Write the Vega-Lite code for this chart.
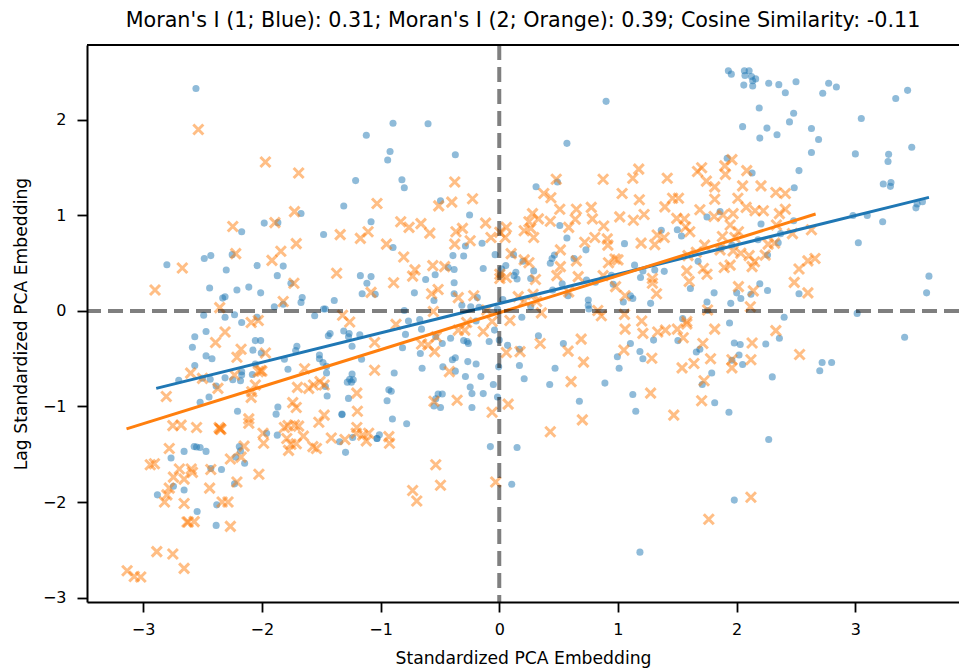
{"$schema":"https://vega.github.io/schema/vega-lite/v6.json","width":872,"height":557,"autosize":{"type":"none"},"padding":{"left":87,"top":45,"right":0,"bottom":67},"background":"white","config":{"view":{"stroke":null},"font":"DejaVu Sans"},"title":{"text":"Moran's I (1; Blue): 0.31; Moran's I (2; Orange): 0.39; Cosine Similarity: -0.11","font":"DejaVu Sans","fontSize":20.7,"fontWeight":"normal","color":"black","anchor":"middle","offset":11},
"datasets":{"blue":[
{"x":-2.555,"y":2.33},{"x":-1.12,"y":1.84},{"x":-1.21,"y":1.365},{"x":-1.31,"y":1.1},{"x":-1.67,"y":1.02},{"x":-1.08,"y":0.935},{"x":-1.48,"y":0.8},{"x":-1.865,"y":0.925},{"x":-1.98,"y":0.92},{"x":-2.17,"y":0.83},{"x":-2.43,"y":0.58},{"x":-2.485,"y":0.55},{"x":-2.25,"y":0.59},{"x":-2.8,"y":0.485},{"x":-2.04,"y":0.475},{"x":-1.82,"y":0.47},{"x":-2.3,"y":0.43},{"x":-1.87,"y":0.37},{"x":-1.17,"y":0.37},{"x":-1.08,"y":0.36},{"x":-1.115,"y":0.29},{"x":-1.755,"y":0.29},{"x":-2.44,"y":0.24},{"x":-2.21,"y":0.22},{"x":-2.11,"y":0.25},{"x":-2.01,"y":0.19},{"x":-1.155,"y":0.18},{"x":-1.045,"y":0.175},{"x":-2.33,"y":0.135},{"x":-2.31,"y":0.15},{"x":-1.66,"y":0.14},{"x":-1.67,"y":0.09},{"x":-1.39,"y":0.11},{"x":-1.895,"y":0.045},{"x":-1.82,"y":0.07},{"x":-1.465,"y":0.02},{"x":-1.48,"y":0.02},{"x":-2.49,"y":-0.045},{"x":-2.31,"y":-0.065},{"x":-2.23,"y":-0.04},{"x":-2.04,"y":-0.065},{"x":-2.17,"y":-0.12},{"x":-1.555,"y":-0.05},
{"x":-2.565,"y":-0.27},{"x":-2.47,"y":-0.215},{"x":-2.585,"y":-0.38},{"x":-2.47,"y":-0.47},{"x":-2.42,"y":-0.5},{"x":-2.565,"y":-0.57},{"x":-2.7,"y":-0.725},{"x":-2.055,"y":-0.31},{"x":-2.01,"y":-0.31},{"x":-2.075,"y":-0.41},{"x":-2.005,"y":-0.44},{"x":-1.705,"y":-0.37},{"x":-1.715,"y":-0.415},{"x":-1.44,"y":-0.26},{"x":-1.425,"y":-0.235},{"x":-1.265,"y":-0.235},{"x":-1.27,"y":-0.27},{"x":-1.175,"y":-0.25},{"x":-1.24,"y":-0.37},{"x":-1.31,"y":-0.21},{"x":-1.81,"y":-0.505},{"x":-1.515,"y":-0.46},{"x":-1.515,"y":-0.5},{"x":-1.485,"y":-0.54},{"x":-1.455,"y":-0.58},{"x":-1.455,"y":-0.65},{"x":-1.16,"y":-0.505},{"x":-1.78,"y":-0.61},{"x":-2.055,"y":-0.555},{"x":-2.17,"y":-0.635},{"x":-2.17,"y":-0.67},{"x":-2.08,"y":-0.665},{"x":-2.31,"y":-0.7},{"x":-2.245,"y":-0.72},{"x":-2.18,"y":-0.73},{"x":-2.435,"y":-0.715},{"x":-2.5,"y":-0.705},{"x":-2.385,"y":-0.785},{"x":-2.445,"y":-0.9},{"x":-2.52,"y":-0.955},{"x":-1.24,"y":-0.66},{"x":-1.26,"y":-0.715},{"x":-1.23,"y":-0.72},{"x":-1.28,"y":-0.745},{"x":-1.245,"y":-0.745},{"x":-1.27,"y":-0.915},{"x":-1.45,"y":-0.89},{"x":-1.465,"y":-0.79},{"x":-1.865,"y":-1.005},{"x":-1.88,"y":-1.08},{"x":-2.205,"y":-1.05},{"x":-1.325,"y":-1.08},{"x":-1.325,"y":-1.085},{"x":-1.96,"y":-1.28},{"x":-1.87,"y":-1.3},{"x":-1.235,"y":-1.325},{"x":-1.345,"y":-1.37},{"x":-1.03,"y":-1.335},{"x":-1.295,"y":-1.48},{"x":-2.57,"y":-1.42},{"x":-2.55,"y":-1.425},{"x":-2.52,"y":-1.43},{"x":-2.47,"y":-1.47},{"x":-2.655,"y":-1.47},{"x":-2.765,"y":-1.54},{"x":-2.19,"y":-1.42},{"x":-2.18,"y":-1.465},{"x":-2.22,"y":-1.53},{"x":-2.145,"y":-1.595},{"x":-2.34,"y":-1.66},{"x":-2.43,"y":-1.65},{"x":-2.23,"y":-1.81},{"x":-2.745,"y":-1.835},{"x":-2.655,"y":-1.875},{"x":-2.88,"y":-1.925},{"x":-2.38,"y":-2.03},{"x":-2.545,"y":-2.1},{"x":-2.385,"y":-2.245},
{"x":0.9,"y":2.195},{"x":-0.895,"y":1.965},{"x":-0.6,"y":1.96},{"x":0.57,"y":1.755},{"x":-0.92,"y":1.67},{"x":-0.94,"y":1.58},{"x":-0.37,"y":1.635},{"x":-0.82,"y":1.375},{"x":-0.8,"y":1.29},{"x":0.31,"y":1.3},{"x":0.49,"y":1.35},{"x":-0.495,"y":1.155},{"x":-0.25,"y":1.005},{"x":0.51,"y":0.895},{"x":0.57,"y":0.765},{"x":1.365,"y":0.845},{"x":1.055,"y":0.705},{"x":-0.895,"y":0.665},{"x":-0.285,"y":0.68},{"x":-0.145,"y":0.71},{"x":0.73,"y":0.64},{"x":-0.39,"y":0.58},{"x":-0.3,"y":0.575},{"x":-0.035,"y":0.59},{"x":0.12,"y":0.59},{"x":0.465,"y":0.585},{"x":0.445,"y":0.55},{"x":0.43,"y":0.5},{"x":0.63,"y":0.55},{"x":0.2,"y":0.52},{"x":-0.43,"y":0.455},{"x":-0.38,"y":0.435},{"x":-0.135,"y":0.445},{"x":0.055,"y":0.475},{"x":0.02,"y":0.44},{"x":0.01,"y":0.375},{"x":0.14,"y":0.405},{"x":0.125,"y":0.37},{"x":0.15,"y":0.335},{"x":0.29,"y":0.42},{"x":0.265,"y":0.34},{"x":-0.54,"y":0.38},{"x":-0.62,"y":0.33},{"x":-0.38,"y":0.295},{"x":-0.715,"y":0.19},{"x":-0.38,"y":0.18},{"x":-0.55,"y":0.11},{"x":-0.315,"y":0.06},{"x":-0.24,"y":0.045},{"x":-0.17,"y":0.04},{"x":-0.185,"y":0.14},{"x":-0.8,"y":0.005},{"x":-0.765,"y":-0.105},{"x":-0.67,"y":-0.09},{"x":-0.015,"y":0.02},{"x":0.03,"y":0.12},{"x":0.265,"y":0.045},{"x":0.19,"y":-0.065},{"x":0.53,"y":0.285},{"x":0.58,"y":0.16},{"x":0.735,"y":0.325},{"x":0.81,"y":0.3},{"x":0.96,"y":0.28},{"x":0.945,"y":0.375},{"x":0.75,"y":0.115},{"x":0.75,"y":0.06},{"x":0.755,"y":0.02},{"x":1.105,"y":0.16},{"x":1.125,"y":0.13},{"x":1.045,"y":0.095},{"x":1.275,"y":0.08},{"x":1.14,"y":0.48},{"x":1.21,"y":0.42},{"x":1.19,"y":0.35},{"x":1.31,"y":0.43},{"x":1.39,"y":0.415},{"x":0.45,"y":0.22},{"x":-0.195,"y":-0.105},
{"x":-0.79,"y":-0.245},{"x":-0.655,"y":-0.19},{"x":-0.815,"y":-0.385},{"x":-0.665,"y":-0.445},{"x":-0.535,"y":-0.27},{"x":-0.48,"y":-0.34},{"x":-0.41,"y":-0.285},{"x":-0.3,"y":-0.31},{"x":-0.27,"y":-0.32},{"x":-0.26,"y":-0.34},{"x":-0.085,"y":-0.32},{"x":-0.04,"y":-0.2},{"x":0,"y":-0.305},{"x":0.07,"y":-0.36},{"x":0.17,"y":-0.4},{"x":0.33,"y":-0.26},{"x":0.54,"y":-0.34},{"x":1.105,"y":-0.34},{"x":1.3,"y":-0.305},{"x":0.995,"y":-0.48},{"x":1.185,"y":-0.425},{"x":1.21,"y":-0.5},{"x":1.01,"y":-0.6},{"x":0.17,"y":-0.57},{"x":-0.005,"y":-0.585},{"x":0.47,"y":-0.6},{"x":0.21,"y":-0.71},{"x":-0.05,"y":-0.77},{"x":0.425,"y":-0.77},{"x":0.89,"y":-0.755},{"x":-0.885,"y":-0.65},{"x":-0.65,"y":-0.6},{"x":-0.475,"y":-0.585},{"x":-0.37,"y":-0.63},{"x":-0.395,"y":-0.51},{"x":-0.37,"y":-0.49},{"x":-0.265,"y":-0.53},{"x":-0.195,"y":-0.555},{"x":-0.285,"y":-0.685},{"x":-0.155,"y":-0.685},{"x":-0.245,"y":-0.795},{"x":-0.23,"y":-0.865},{"x":-0.135,"y":-0.865},{"x":-0.015,"y":-0.9},{"x":-0.515,"y":-0.87},{"x":-0.48,"y":-0.87},{"x":-0.535,"y":-0.92},{"x":-0.55,"y":-0.995},{"x":-0.495,"y":-1.01},{"x":-0.23,"y":-1.01},{"x":-0.93,"y":-0.825},{"x":-0.91,"y":-0.84},{"x":-0.945,"y":-0.94},{"x":1.125,"y":-0.875},{"x":0.675,"y":-0.945},{"x":1.15,"y":-1.05},{"x":-0.9,"y":-1.13},{"x":-0.78,"y":-1.18},{"x":-1.01,"y":-1.295},{"x":-1.03,"y":-1.335},{"x":-0.075,"y":-1.42},{"x":0.15,"y":-1.43},{"x":0.105,"y":-1.815},{"x":1.185,"y":-2.525},
{"x":1.93,"y":2.515},{"x":1.955,"y":2.48},{"x":2.065,"y":2.515},{"x":2.105,"y":2.515},{"x":2.07,"y":2.465},{"x":2.125,"y":2.455},{"x":2.16,"y":2.43},{"x":2.135,"y":2.41},{"x":2.06,"y":2.365},{"x":2.135,"y":2.355},{"x":2.27,"y":2.385},{"x":2.355,"y":2.37},{"x":2.41,"y":2.285},{"x":2.5,"y":2.4},{"x":2.725,"y":2.28},{"x":2.775,"y":2.385},{"x":2.84,"y":2.345},{"x":3.34,"y":2.225},{"x":3.44,"y":2.31},{"x":2.19,"y":2.125},{"x":2.48,"y":2.07},{"x":3.05,"y":2.015},{"x":2.445,"y":1.98},{"x":2.05,"y":1.93},{"x":2.255,"y":1.915},{"x":2.63,"y":1.91},{"x":2.34,"y":1.845},{"x":2.195,"y":1.81},{"x":2.69,"y":1.795},{"x":3.475,"y":1.715},{"x":2.63,"y":1.66},{"x":3,"y":1.645},{"x":3.28,"y":1.64},{"x":3.275,"y":1.565},{"x":1.92,"y":1.6},{"x":2.525,"y":1.47},{"x":2.13,"y":1.445},{"x":2.485,"y":1.29},{"x":3.235,"y":1.33},{"x":3.3,"y":1.345},{"x":3.295,"y":1.305},{"x":3.565,"y":1.145},{"x":3.52,"y":1.12},{"x":3.51,"y":1.08},{"x":1.75,"y":0.985},{"x":2.98,"y":1},{"x":3.1,"y":1},{"x":3.23,"y":0.935},{"x":2.48,"y":0.945},{"x":2.205,"y":0.91},{"x":1.5,"y":0.85},{"x":1.535,"y":0.785},{"x":2.18,"y":0.745},{"x":2.37,"y":0.81},{"x":3.025,"y":0.715},{"x":1.86,"y":1.04},{"x":2.35,"y":0.715},{"x":2.26,"y":0.585},{"x":1.675,"y":0.52},{"x":1.96,"y":0.69},{"x":1.87,"y":0.655},{"x":3.62,"y":0.365},{"x":3.6,"y":0.19},{"x":2.195,"y":0.285},{"x":1.61,"y":0.235},{"x":1.81,"y":0.19},{"x":2.26,"y":0.215},{"x":2.525,"y":0.18},{"x":2,"y":0.19},{"x":2.12,"y":0.175},{"x":2.035,"y":0.13},{"x":1.95,"y":0.08},{"x":1.75,"y":0.095},{"x":1.755,"y":0.005},{"x":3.015,"y":-0.025},{"x":2.4,"y":-0.065},{"x":1.94,"y":-0.125},{"x":1.545,"y":-0.08},
{"x":3.415,"y":-0.275},{"x":2.36,"y":-0.285},{"x":2.245,"y":-0.345},{"x":1.98,"y":-0.335},{"x":2.03,"y":-0.35},{"x":1.505,"y":-0.31},{"x":1.66,"y":-0.43},{"x":1.69,"y":-0.4},{"x":2.02,"y":-0.46},{"x":2.05,"y":-0.56},{"x":1.96,"y":-0.515},{"x":2.72,"y":-0.54},{"x":2.8,"y":-0.54},{"x":2.7,"y":-0.625},{"x":1.79,"y":-0.65},{"x":2.3,"y":-0.69},{"x":1.71,"y":-0.77},{"x":1.815,"y":-0.96},{"x":1.935,"y":-1.06},{"x":2.27,"y":-1.345},{"x":1.98,"y":-1.98}],
"orange":[
{"x":-2.535,"y":1.9},{"x":-1.97,"y":1.56},{"x":-1.69,"y":1.445},{"x":-1.725,"y":1.04},{"x":-1.03,"y":1.125},{"x":-1.89,"y":0.925},{"x":-2.245,"y":0.885},{"x":-1.34,"y":0.8},{"x":-1.105,"y":0.83},{"x":-1.17,"y":0.76},{"x":-1.71,"y":0.705},{"x":-1.84,"y":0.625},{"x":-2.22,"y":0.6},{"x":-1.915,"y":0.53},{"x":-2.67,"y":0.45},{"x":-1.37,"y":0.395},{"x":-1.73,"y":0.29},{"x":-2.9,"y":0.22},{"x":-1.08,"y":0.195},{"x":-1.82,"y":0.1},{"x":-2.355,"y":0.035},{"x":-1.32,"y":-0.045},{"x":-1.26,"y":-0.115},{"x":-2.09,"y":-0.12},{"x":-2.03,"y":-0.1},
{"x":-2.31,"y":-0.22},{"x":-2.39,"y":-0.33},{"x":-2.175,"y":-0.4},{"x":-2.21,"y":-0.485},{"x":-1.97,"y":-0.44},{"x":-2.6,"y":-0.65},{"x":-2.5,"y":-0.705},{"x":-2.23,"y":-0.67},{"x":-2.01,"y":-0.625},{"x":-2.03,"y":-0.635},{"x":-2,"y":-0.63},{"x":-2.055,"y":-0.775},{"x":-2.37,"y":-0.81},{"x":-2.085,"y":-0.845},{"x":-2.09,"y":-0.905},{"x":-2.805,"y":-0.895},{"x":-1.64,"y":-0.605},{"x":-1.7,"y":-0.8},{"x":-1.605,"y":-0.81},{"x":-1.565,"y":-0.775},{"x":-1.51,"y":-0.74},{"x":-1.475,"y":-0.775},{"x":-1.74,"y":-0.96},{"x":-1.71,"y":-1.01},{"x":-1.2,"y":-0.86},{"x":-1.195,"y":-1.05},{"x":-1.475,"y":-1.09},{"x":-1.52,"y":-1.165},{"x":-2.11,"y":-1.13},{"x":-2.11,"y":-1.175},{"x":-2.75,"y":-1.2},{"x":-2.68,"y":-1.195},{"x":-2.55,"y":-1.22},{"x":-2.355,"y":-1.23},{"x":-2.35,"y":-1.235},{"x":-2.36,"y":-1.22},{"x":-2.345,"y":-1.24},{"x":-1.81,"y":-1.22},{"x":-1.78,"y":-1.2},{"x":-1.725,"y":-1.195},{"x":-1.69,"y":-1.205},{"x":-1.2,"y":-1.22},{"x":-1.1,"y":-1.28},{"x":-1.99,"y":-1.28},{"x":-1.65,"y":-1.31},{"x":-1.415,"y":-1.33},{"x":-1.3,"y":-1.345},{"x":-1.205,"y":-1.28},{"x":-1.15,"y":-1.3},{"x":-1.12,"y":-1.36},{"x":-1.79,"y":-1.335},{"x":-1.985,"y":-1.385},{"x":-2.15,"y":-1.415},{"x":-1.755,"y":-1.395},{"x":-1.71,"y":-1.39},{"x":-1.775,"y":-1.46},{"x":-1.57,"y":-1.42},{"x":-1.54,"y":-1.44},{"x":-2.78,"y":-1.44},{"x":-2.175,"y":-1.53},{"x":-2.265,"y":-1.55},{"x":-2.94,"y":-1.61},{"x":-2.905,"y":-1.6},{"x":-2.695,"y":-1.655},{"x":-2.595,"y":-1.655},{"x":-2.585,"y":-1.69},{"x":-2.43,"y":-1.66},{"x":-2.025,"y":-1.71},{"x":-2.745,"y":-1.74},{"x":-2.655,"y":-1.76},{"x":-2.21,"y":-1.79},{"x":-2.44,"y":-1.855},{"x":-2.78,"y":-1.855},{"x":-2.8,"y":-1.925},{"x":-2.82,"y":-2},{"x":-2.655,"y":-2.015},{"x":-2.335,"y":-2},{"x":-2.285,"y":-2},{"x":-2.62,"y":-2.21},{"x":-2.63,"y":-2.21},{"x":-2.57,"y":-2.205},{"x":-2.265,"y":-2.255},{"x":-2.885,"y":-2.52},{"x":-2.75,"y":-2.545},{"x":-2.655,"y":-2.695},{"x":-3.135,"y":-2.72},{"x":-3.075,"y":-2.78},{"x":-3.02,"y":-2.785},
{"x":-0.375,"y":1.35},{"x":-0.225,"y":1.175},{"x":-0.4,"y":1.14},{"x":-0.51,"y":1.1},{"x":0.48,"y":1.38},{"x":0.875,"y":1.38},{"x":1.175,"y":1.485},{"x":1.125,"y":1.39},{"x":1.415,"y":1.39},{"x":0.375,"y":1.23},{"x":0.435,"y":1.185},{"x":1.035,"y":1.23},{"x":1.18,"y":1.165},{"x":1.395,"y":1.09},{"x":0.51,"y":1.065},{"x":0.65,"y":1.065},{"x":0.775,"y":1.085},{"x":0.28,"y":1.02},{"x":0.64,"y":0.96},{"x":0.785,"y":0.965},{"x":1.015,"y":0.985},{"x":1.13,"y":0.95},{"x":1.22,"y":1.01},{"x":-0.83,"y":0.935},{"x":-0.66,"y":0.915},{"x":-0.76,"y":0.875},{"x":-0.585,"y":0.815},{"x":-0.115,"y":0.92},{"x":-0.31,"y":0.865},{"x":-0.365,"y":0.83},{"x":0.06,"y":0.875},{"x":0.005,"y":0.825},{"x":0.05,"y":0.77},{"x":-0.07,"y":0.77},{"x":0.33,"y":0.965},{"x":0.25,"y":0.935},{"x":0.265,"y":0.865},{"x":0.21,"y":0.84},{"x":0.43,"y":0.94},{"x":0.585,"y":0.875},{"x":0.88,"y":0.89},{"x":0.29,"y":0.77},{"x":-0.245,"y":0.735},{"x":-0.375,"y":0.7},{"x":-0.95,"y":0.7},{"x":0.72,"y":0.72},{"x":0.805,"y":0.77},{"x":0.91,"y":0.755},{"x":0.915,"y":0.69},{"x":1.195,"y":0.71},{"x":1.31,"y":0.695},{"x":1.33,"y":0.795},{"x":1.39,"y":0.77},{"x":0.515,"y":0.64},{"x":-0.805,"y":0.565},{"x":0.1,"y":0.6},{"x":0.21,"y":0.535},{"x":0.25,"y":0.505},{"x":0.65,"y":0.525},{"x":0.975,"y":0.545},{"x":1,"y":0.535},{"x":0.92,"y":0.505},{"x":0.515,"y":0.465},{"x":-0.56,"y":0.475},{"x":-0.71,"y":0.43},{"x":-0.73,"y":0.365},{"x":-0.46,"y":0.465},{"x":0.005,"y":0.385},{"x":0.005,"y":0.34},{"x":0.06,"y":0.35},{"x":0.305,"y":0.33},{"x":0.485,"y":0.37},{"x":0.665,"y":0.36},{"x":0.875,"y":0.37},{"x":1.29,"y":0.34},{"x":1.29,"y":0.29},{"x":-0.89,"y":0.295},{"x":-0.515,"y":0.225},{"x":-0.57,"y":0.18},{"x":0.98,"y":0.255},{"x":1.06,"y":0.16},{"x":1.325,"y":0.18},{"x":0.585,"y":0.2},{"x":-0.345,"y":0.14},{"x":-0.215,"y":0.16},{"x":0.16,"y":0.15},{"x":0.285,"y":0.175},{"x":0.21,"y":0.105},{"x":0.315,"y":0.1},{"x":-0.555,"y":-0.005},{"x":-0.105,"y":0.01},{"x":0.355,"y":-0.02},{"x":0.83,"y":0.005},{"x":0.86,"y":-0.05},{"x":1.055,"y":-0.035},{"x":1.2,"y":-0.105},{"x":0.09,"y":-0.1},{"x":-0.06,"y":-0.11},{"x":-0.275,"y":-0.12},{"x":-0.87,"y":-0.14},
{"x":1.06,"y":-0.19},{"x":1.21,"y":-0.235},{"x":1.335,"y":-0.22},{"x":1.4,"y":-0.2},{"x":0.69,"y":-0.295},{"x":0.58,"y":-0.42},{"x":0.345,"y":-0.34},{"x":0.71,"y":-0.535},{"x":1.05,"y":-0.41},{"x":1.285,"y":-0.495},{"x":0.06,"y":-0.435},{"x":0.175,"y":-0.425},{"x":0.605,"y":-0.74},{"x":1.275,"y":-0.86},{"x":0.075,"y":-0.975},{"x":-0.06,"y":-1.06},{"x":0.7,"y":-1.14},{"x":0.43,"y":-1.265},{"x":-1.05,"y":-0.33},{"x":-1.05,"y":-0.62},{"x":-0.655,"y":-0.345},{"x":-0.6,"y":-0.355},{"x":-0.545,"y":-0.425},{"x":-0.53,"y":-0.27},{"x":-0.345,"y":-0.2},{"x":-0.29,"y":-0.2},{"x":-0.135,"y":-0.215},{"x":-0.42,"y":-0.635},{"x":-0.55,"y":-0.945},{"x":-0.355,"y":-0.935},{"x":-0.93,"y":-1.315},{"x":-0.925,"y":-1.385},{"x":-0.535,"y":-1.61},{"x":-0.495,"y":-1.825},{"x":-0.73,"y":-1.88},{"x":-0.695,"y":-1.99},{"x":-0.03,"y":-1.79},
{"x":1.705,"y":1.5},{"x":1.67,"y":1.46},{"x":1.745,"y":1.36},{"x":1.96,"y":1.585},{"x":1.9,"y":1.52},{"x":1.905,"y":1.43},{"x":2.085,"y":1.47},{"x":1.815,"y":1.3},{"x":2.05,"y":1.31},{"x":2.205,"y":1.31},{"x":2.33,"y":1.24},{"x":2.41,"y":1.23},{"x":1.815,"y":1.17},{"x":2.01,"y":1.18},{"x":1.51,"y":1.18},{"x":1.46,"y":1.18},{"x":1.69,"y":1.06},{"x":2.08,"y":1.085},{"x":2.155,"y":1.05},{"x":2.225,"y":1.05},{"x":2.41,"y":1.065},{"x":2.36,"y":1.02},{"x":1.97,"y":1.02},{"x":1.885,"y":1.005},{"x":1.81,"y":0.99},{"x":1.495,"y":0.97},{"x":1.56,"y":0.965},{"x":1.57,"y":0.88},{"x":1.605,"y":0.83},{"x":1.945,"y":0.9},{"x":2.015,"y":0.83},{"x":2.335,"y":0.9},{"x":1.88,"y":0.78},{"x":1.985,"y":0.77},{"x":2.63,"y":0.85},{"x":2.47,"y":0.81},{"x":1.73,"y":0.69},{"x":1.66,"y":0.615},{"x":1.59,"y":0.58},{"x":2.265,"y":0.7},{"x":2.32,"y":0.71},{"x":1.86,"y":0.64},{"x":1.97,"y":0.63},{"x":2.035,"y":0.605},{"x":2.105,"y":0.58},{"x":2.24,"y":0.585},{"x":2.15,"y":0.515},{"x":1.945,"y":0.48},{"x":1.895,"y":0.455},{"x":2.13,"y":0.465},{"x":2.66,"y":0.55},{"x":2.6,"y":0.525},{"x":2.525,"y":0.44},{"x":1.58,"y":0.42},{"x":1.75,"y":0.385},{"x":1.72,"y":0.445},{"x":1.6,"y":0.31},{"x":2.485,"y":0.3},{"x":2.015,"y":0.255},{"x":2.14,"y":0.21},{"x":2.6,"y":0.19},{"x":1.755,"y":0.01},{"x":2.115,"y":0.045},{"x":1.58,"y":-0.11},
{"x":1.5,"y":-0.19},{"x":1.58,"y":-0.135},{"x":1.55,"y":-0.28},{"x":1.815,"y":-0.19},{"x":2.33,"y":-0.205},{"x":1.715,"y":-0.34},{"x":2.13,"y":-0.335},{"x":2.53,"y":-0.455},{"x":1.78,"y":-0.5},{"x":2.12,"y":-0.51},{"x":1.96,"y":-0.51},{"x":1.64,"y":-0.55},{"x":1.54,"y":-0.595},{"x":1.96,"y":-0.595},{"x":1.725,"y":-0.73},{"x":1.705,"y":-0.94},{"x":1.47,"y":-1.09},{"x":2.12,"y":-1.95},{"x":1.765,"y":-2.18}],
"fitBlue":[{"x":-2.89,"y":-0.81},{"x":3.62,"y":1.19}],
"fitOrange":[{"x":-3.14,"y":-1.235},{"x":2.665,"y":1.015}]},
"layer":[
{"data":{"name":"blue"},"mark":{"type":"point","filled":true,"shape":"circle","size":50,"color":"#1f77b4","opacity":0.5},"encoding":{"x":{"field":"x","type":"quantitative","scale":{"domain":[-3.473,3.873],"nice":false,"zero":false},"axis":{"title":"Standardized PCA Embedding","titleFontSize":17.2,"titleFontWeight":"normal","titleColor":"black","titleFont":"DejaVu Sans","titlePadding":12,"labelFontSize":16,"labelColor":"black","labelFont":"DejaVu Sans","labelPadding":9,"values":[-3,-2,-1,0,1,2,3],"grid":false,"tickColor":"black","tickWidth":1.8,"tickSize":10,"domainColor":"black","domainWidth":2,"format":"d"}},"y":{"field":"y","type":"quantitative","scale":{"domain":[-3.047,2.785],"nice":false,"zero":false},"axis":{"title":"Lag Standardized PCA Embedding","titleFontSize":17.2,"titleFontWeight":"normal","titleColor":"black","titleFont":"DejaVu Sans","titlePadding":12,"labelFontSize":16,"labelColor":"black","labelFont":"DejaVu Sans","labelPadding":11,"values":[-3,-2,-1,0,1,2],"grid":false,"tickColor":"black","tickWidth":1.8,"tickSize":10,"domainColor":"black","domainWidth":2,"format":"d"}}}},
{"data":{"name":"orange"},"mark":{"type":"point","filled":false,"shape":"M-1,-1L1,1M-1,1L1,-1","size":100,"color":"#ff7f0e","strokeWidth":3,"opacity":0.5},"encoding":{"x":{"field":"x","type":"quantitative"},"y":{"field":"y","type":"quantitative"}}},
{"data":{"name":"fitBlue"},"mark":{"type":"line","color":"#1f77b4","strokeWidth":3},"encoding":{"x":{"field":"x","type":"quantitative"},"y":{"field":"y","type":"quantitative"}}},
{"data":{"name":"fitOrange"},"mark":{"type":"line","color":"#ff7f0e","strokeWidth":3},"encoding":{"x":{"field":"x","type":"quantitative"},"y":{"field":"y","type":"quantitative"}}},
{"data":{"values":[{"v":0}]},"mark":{"type":"rule","color":"black","opacity":0.5,"strokeWidth":4,"strokeDash":[15,7]},"encoding":{"y":{"field":"v","type":"quantitative"}}},
{"data":{"values":[{"v":0}]},"mark":{"type":"rule","color":"black","opacity":0.5,"strokeWidth":4,"strokeDash":[15,7]},"encoding":{"x":{"field":"v","type":"quantitative"}}},
{"data":{"values":[{"v":2.785}]},"mark":{"type":"rule","color":"black","strokeWidth":2},"encoding":{"y":{"field":"v","type":"quantitative"}}}
]}
